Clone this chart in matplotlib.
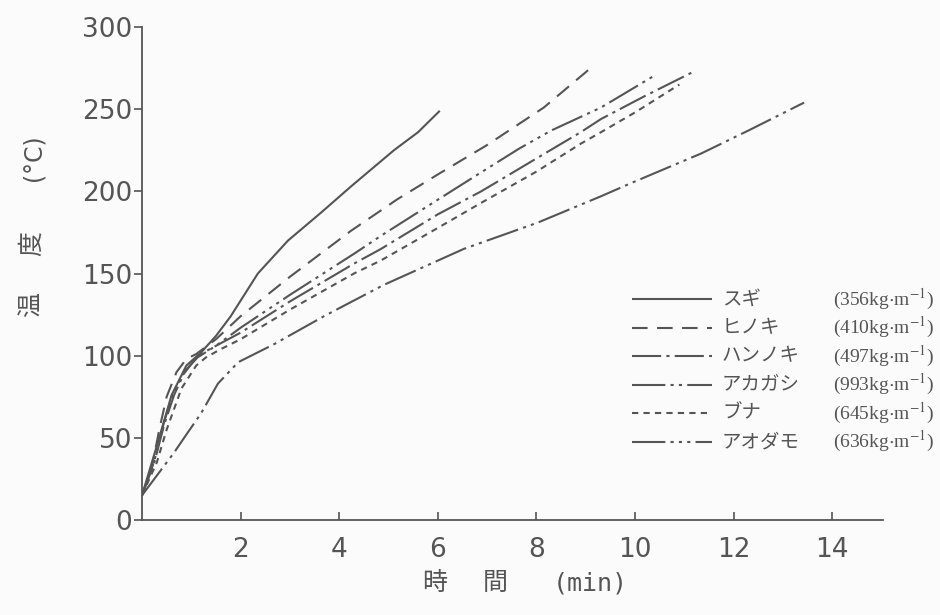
import matplotlib
matplotlib.use("Agg")
import matplotlib.pyplot as plt
from matplotlib.lines import Line2D

plt.rcParams['mathtext.fontset'] = 'stix'

# ---- data ----
names = ["スギ", "ヒノキ", "ハンノキ", "アカガシ", "ブナ", "アオダモ"]
densities = ["356", "410", "497", "993", "645", "636"]

t_sugi = [0, 0.3, 0.6, 0.9, 1.2, 1.5, 1.8, 2.35, 2.96, 3.63, 4.24, 5.11, 5.6, 6.04]
T_sugi = [15, 45, 76, 94, 102, 112, 124, 150, 170, 187, 203, 225, 236, 249]

t_hinoki = [0, 0.2, 0.35, 0.5, 0.7, 0.9, 1.1, 1.5, 2.0, 3.0, 4.24, 5.17, 6.04, 6.99, 8.15, 9.06]
T_hinoki = [15, 32, 55, 75, 90, 98, 101, 110, 124, 148, 176, 195, 211, 228, 251, 274]

t_hannoki = [0, 0.25, 0.45, 0.65, 0.85, 1.13, 1.5, 2.0, 3.0, 4.3, 4.85, 6.0, 6.88, 8.0, 8.9, 9.31, 10.2, 11.2]
T_hannoki = [15, 35, 58, 76, 89, 100, 106, 114, 133, 156, 165, 186, 200, 220, 236, 244, 258, 273]

t_akagashi = [0, 0.35, 0.65, 0.9, 1.2, 1.54, 1.95, 2.68, 3.69, 4.9, 6.53, 8.03, 9.31, 9.92, 11.34, 12.3, 13.43]
T_akagashi = [15, 29, 41, 52, 65, 83, 96, 107, 124, 143, 165, 181, 197, 205, 223, 237, 254]

t_buna = [0, 0.3, 0.5, 0.8, 1.1, 1.3, 1.6, 2.0, 3.0, 4.3, 4.85, 5.9, 6.88, 8.0, 8.9, 9.31, 10.0, 10.9]
T_buna = [15, 35, 55, 80, 94, 99, 104, 110, 128, 150, 158, 176, 193, 212, 229, 236, 248, 265]

t_aodamo = [0, 0.25, 0.45, 0.65, 0.85, 1.13, 1.5, 2.0, 3.0, 4.3, 4.85, 5.9, 6.85, 7.65, 8.3, 9.31, 10.37]
T_aodamo = [15, 36, 60, 78, 90, 99, 106, 117, 137, 162, 173, 193, 211, 226, 237, 251, 270]

x_ticks = [2, 4, 6, 8, 10, 12, 14]
y_ticks = [0, 50, 100, 150, 200, 250, 300]

series = [(t_sugi, T_sugi), (t_hinoki, T_hinoki), (t_hannoki, T_hannoki),
          (t_akagashi, T_akagashi), (t_buna, T_buna), (t_aodamo, T_aodamo)]

styles = [
    '-',
    (0, (7.5, 4.5)),
    (0, (14, 2.5, 1.5, 2.5)),
    (0, (16, 2.5, 1.5, 2.5, 1.5, 2.5)),
    (0, (3, 2.5)),
    (0, (16, 2.5, 1.5, 2.5, 1.5, 2.5, 1.5, 2.5)),
]

W, H = 940, 615
col = '#555555'
bg = '#fbfbfb'

fig = plt.figure(figsize=(9.4, 6.15), dpi=100, facecolor=bg)
ax = fig.add_axes([142 / W, 1 - 520 / H, (883 - 142) / W, (520 - 27) / H])
ax.set_facecolor(bg)

for (t, T), ls in zip(series, styles):
    ax.plot(t, T, color=col, lw=1.5, linestyle=ls, solid_capstyle='butt', dash_capstyle='butt')

ax.set_xlim(0, 15.03)
ax.set_ylim(0, 300)
for s in ['top', 'right']:
    ax.spines[s].set_visible(False)
for s in ['left', 'bottom']:
    ax.spines[s].set_color(col)
    ax.spines[s].set_linewidth(1.3)

ax.set_xticks(x_ticks)
ax.set_xticklabels([str(v) for v in x_ticks])
ax.set_yticks(y_ticks)
ax.set_yticklabels([str(v) for v in y_ticks])
ax.tick_params(axis='x', direction='in', length=6, width=1.2, color=col, pad=12,
               labelsize=19, labelcolor='#555555')
ax.tick_params(axis='y', direction='out', length=6, width=1.2, color=col, pad=1,
               labelsize=19, labelcolor='#555555')
for lab in ax.get_xticklabels() + ax.get_yticklabels():
    lab.set_fontfamily('DejaVu Sans')

# axis titles
fig.text(435 / W, 1 - 583 / H, "時", fontsize=18, color=col,
         family=['Noto Sans CJK JP', 'DejaVu Sans'], ha='center', va='center')
fig.text(495 / W, 1 - 583 / H, "間", fontsize=18, color=col,
         family=['Noto Sans CJK JP', 'DejaVu Sans'], ha='center', va='center')
fig.text(590 / W, 1 - 583 / H, "(min)", fontsize=18, color=col,
         family=['DejaVu Sans Mono'], ha='center', va='center')

fig.text(32 / W, 1 - 305 / H, "温", fontsize=18, color=col, rotation=90,
         family=['Noto Sans CJK JP', 'DejaVu Sans'], ha='center', va='center')
fig.text(32 / W, 1 - 243 / H, "度", fontsize=18, color=col, rotation=90,
         family=['Noto Sans CJK JP', 'DejaVu Sans'], ha='center', va='center')
fig.text(33 / W, 1 - 158 / H, "(°C)", fontsize=17, color=col, rotation=90,
         family=['DejaVu Sans'], ha='center', va='center')

# legend drawn manually
row0, step = 299, 28.5
for i, (nm, d, ls) in enumerate(zip(names, densities, styles)):
    yy = 1 - (row0 + step * i) / H
    fig.add_artist(Line2D([632 / W, 712 / W], [yy, yy], transform=fig.transFigure,
                          color=col, lw=1.5, linestyle=ls, solid_capstyle='butt',
                          dash_capstyle='butt'))
    fig.text(722 / W, yy, nm, fontsize=14, color=col, ha='left', va='center',
             family=['Noto Sans CJK JP', 'DejaVu Sans'])
    fig.text(833 / W, yy, "(" + d + r"kg$\cdot$m$^{-1}$)", fontsize=14, color=col,
             ha='left', va='center', family=['Liberation Serif'])

fig.savefig("out.png", dpi=100, facecolor=bg)
